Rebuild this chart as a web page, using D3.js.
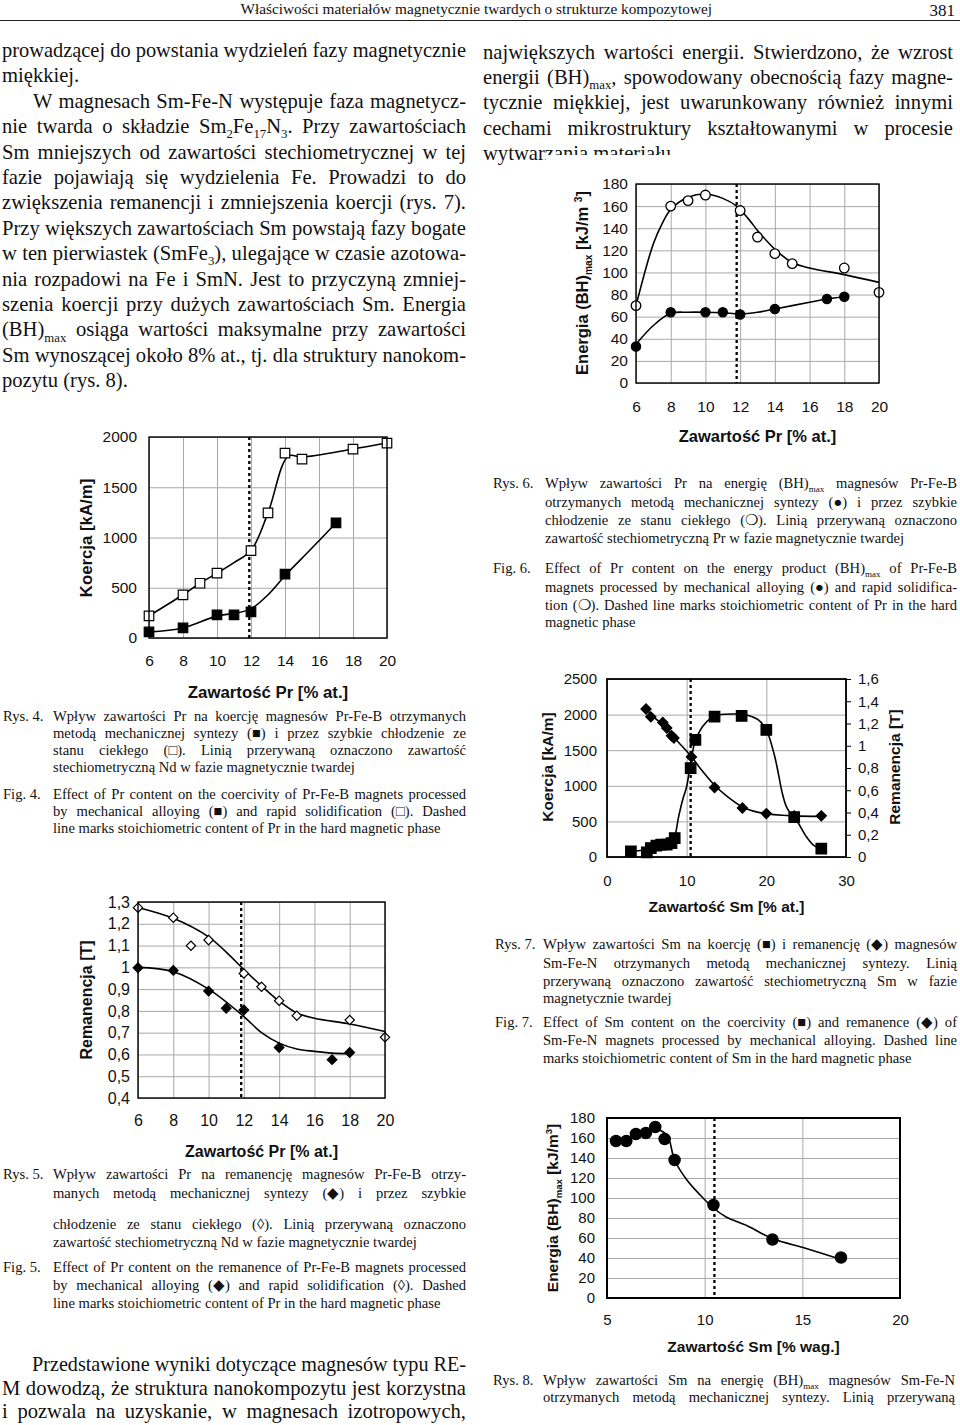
<!DOCTYPE html>
<html lang="pl">
<head>
<meta charset="utf-8">
<title>Rys. 4-8</title>
<script src="https://cdnjs.cloudflare.com/ajax/libs/d3/7.8.5/d3.min.js"></script>
<style>
  body { margin: 0; background: #fff; }
</style>
</head>
<body>
<svg id="page" width="960" height="1425"></svg>
<script>
// ---- Rys. 4: koercja vs Pr ----
var rys4OpenX = [6, 8, 9, 10, 12, 13, 14, 15, 18, 20];
var rys4OpenY = [220, 430, 545, 645, 870, 1245, 1840, 1780, 1880, 1940];
var rys4FilledX = [6, 8, 10, 11, 12, 14, 17];
var rys4FilledY = [60, 100, 230, 230, 260, 635, 1145];
// trend lines as drawn in the figure
var rys4OpenLineX = [6, 8, 9, 10, 11, 12, 13, 14.2, 15, 18, 20];
var rys4OpenLineY = [220, 430, 545, 645, 750, 870, 1245, 1810, 1800, 1880, 1940];
var rys4FilledLineX = [6, 8, 10, 11, 12, 13, 14, 15.5, 17];
var rys4FilledLineY = [60, 100, 220, 245, 290, 430, 620, 880, 1145];
var rys4Stoich = 11.9;

// ---- Rys. 5: remanencja vs Pr ----
var rys5OpenX = [6, 8, 9, 10, 12, 13, 14, 15, 18, 20];
var rys5OpenY = [1.274, 1.228, 1.099, 1.125, 0.972, 0.911, 0.847, 0.778, 0.758, 0.679];
var rys5FilledX = [6, 8, 10, 11, 12, 14, 17, 18];
var rys5FilledY = [0.998, 0.986, 0.891, 0.812, 0.804, 0.632, 0.576, 0.609];
var rys5OpenLineX = [6, 8, 10, 11, 12, 13, 14, 15, 16, 18, 20];
var rys5OpenLineY = [1.275, 1.225, 1.14, 1.07, 0.99, 0.915, 0.845, 0.79, 0.766, 0.74, 0.705];
var rys5FilledLineX = [6, 8, 10, 12, 13, 14, 15, 16, 17, 18];
var rys5FilledLineY = [1.0, 0.98, 0.9, 0.774, 0.70, 0.652, 0.625, 0.614, 0.606, 0.603];
var rys5Stoich = 11.85;

// ---- Rys. 6: energia vs Pr ----
var rys6OpenX = [6, 8, 9, 10, 12, 13, 14, 15, 18, 20];
var rys6OpenY = [70, 160, 165, 170, 156, 132, 117, 108, 104, 82];
var rys6FilledX = [6, 8, 10, 11, 12, 14, 17, 18];
var rys6FilledY = [33, 64, 64, 64, 62, 67, 76, 78];
var rys6OpenLineX = [6, 7, 7.5, 8, 9, 10, 11, 11.8, 12.5, 13, 14, 15, 16, 18, 20];
var rys6OpenLineY = [70, 126, 144, 157, 168, 171, 167, 160, 148, 138, 121, 109, 104, 98, 91];
var rys6FilledLineX = [6, 7, 8, 9, 10, 11, 12, 13, 14, 16, 17, 18];
var rys6FilledLineY = [35, 52, 63, 64, 64, 63.5, 62.5, 64, 67, 73, 76, 78];
var rys6Stoich = 11.8;

// ---- Rys. 7: koercja i remanencja vs Sm ----
var rys7KoercjaX = [3, 5, 5.5, 6.2, 6.8, 7.5, 8.1, 8.5, 10.5, 11.1, 13.5, 16.9, 20, 23.5, 26.9];
var rys7KoercjaY = [80, 65, 126, 159, 173, 173, 196, 266, 1248, 1645, 1972, 1981, 1785, 560, 117];
var rys7RemX = [4.9, 5.5, 7.0, 7.5, 8.1, 8.4, 10.6, 13.5, 17, 20, 23.5, 26.9];
var rys7RemY = [1.33, 1.26, 1.21, 1.16, 1.09, 1.07, 0.90, 0.625, 0.44, 0.39, 0.37, 0.37];
var rys7KoercjaLineX = [3, 5, 7, 8, 8.5, 9, 9.5, 10, 10.5, 11, 12, 13, 14, 16, 17.5, 19, 20, 21, 21.5, 22, 22.5, 23, 23.5, 24, 25, 26, 27];
var rys7KoercjaLineY = [80, 103, 150, 196, 290, 570, 804, 990, 1318, 1598, 1832, 1948, 1995, 2009, 1995, 1925, 1785, 1435, 1178, 897, 710, 617, 547, 477, 290, 159, 103];
var rys7RemLineX = [4.9, 6, 7, 8, 9, 10.5, 12, 13.5, 15, 17, 18.5, 20, 22, 23.5, 27];
var rys7RemLineY = [1.33, 1.25, 1.19, 1.11, 1.03, 0.91, 0.77, 0.645, 0.55, 0.45, 0.41, 0.39, 0.375, 0.37, 0.365];
var rys7Stoich = 10.5;

// ---- Rys. 8: energia vs Sm [% wag.] ----
var rys8X = [5.46, 5.99, 6.48, 6.99, 7.47, 7.95, 8.46, 10.45, 13.47, 16.98];
var rys8Y = [157, 157, 164, 165, 171, 159, 138, 93, 58.5, 40.5];
var rys8LineX = [7.4, 8.07, 8.46, 9.09, 9.77, 10.45, 11.1, 12.2, 13.47, 15.2, 17];
var rys8LineY = [170, 163, 138, 118, 103, 90, 81, 72, 59.5, 49.5, 38.5];
var rys8Stoich = 10.5;

// tick labels
var prTicks = [6, 8, 10, 12, 14, 16, 18, 20];
var koercjaPrTicks = [0, 500, 1000, 1500, 2000];
var remPrTicks = [0.4, 0.5, 0.6, 0.7, 0.8, 0.9, 1, 1.1, 1.2, 1.3];
var energyTicks = [0, 20, 40, 60, 80, 100, 120, 140, 160, 180];
var smAtTicks = [0, 10, 20, 30];
var koercjaSmTicks = [0, 500, 1000, 1500, 2000, 2500];
var remSmTicks = [0, 0.2, 0.4, 0.6, 0.8, 1, 1.2, 1.4, 1.6];
var smWagTicks = [5, 10, 15, 20];

// ---- page text ----
var headerTitle = "Właściwości materiałów magnetycznie twardych o strukturze kompozytowej";
var pageNumber = "381";

// [text, indent, justified]
var leftColumn = [
  ["prowadzącej do powstania wydzieleń fazy magnetycznie", 0, true],
  ["miękkiej.", 0, false],
  ["W magnesach Sm-Fe-N występuje faza magnetycz-", 31, true],
  ["nie twarda o składzie Sm_{2}Fe_{17}N_{3}. Przy zawartościach", 0, true],
  ["Sm mniejszych od zawartości stechiometrycznej w tej", 0, true],
  ["fazie pojawiają się wydzielenia Fe. Prowadzi to do", 0, true],
  ["zwiększenia remanencji i zmniejszenia koercji (rys. 7).", 0, true],
  ["Przy większych zawartościach Sm powstają fazy bogate", 0, true],
  ["w ten pierwiastek (SmFe_{3}), ulegające w czasie azotowa-", 0, true],
  ["nia rozpadowi na Fe i SmN. Jest to przyczyną zmniej-", 0, true],
  ["szenia koercji przy dużych zawartościach Sm. Energia", 0, true],
  ["(BH)_{max} osiąga wartości maksymalne przy zawartości", 0, true],
  ["Sm wynoszącej około 8% at., tj. dla struktury nanokom-", 0, true],
  ["pozytu (rys. 8).", 0, false]
];
var rightColumn = [
  ["największych wartości energii. Stwierdzono, że wzrost", 0, true],
  ["energii (BH)_{max}, spowodowany obecnością fazy magne-", 0, true],
  ["tycznie miękkiej, jest uwarunkowany również innymi", 0, true],
  ["cechami mikrostruktury kształtowanymi w procesie", 0, true],
  ["wytwarzania materiału.", 0, false]
];
var bottomColumn = [
  ["Przedstawione wyniki dotyczące magnesów typu RE-", 30, true],
  ["M dowodzą, że struktura nanokompozytu jest korzystna", 0, true],
  ["i pozwala na uzyskanie, w magnesach izotropowych,", 0, true]
];

// captions: [text, justified]
var rys4Pl = [
  ["Wpływ zawartości Pr na koercję magnesów Pr-Fe-B otrzymanych", true],
  ["metodą mechanicznej syntezy (■) i przez szybkie chłodzenie ze", true],
  ["stanu ciekłego (□). Linią przerywaną oznaczono zawartość", true],
  ["stechiometryczną Nd w fazie magnetycznie twardej", false]
];
var rys4En = [
  ["Effect of Pr content on the coercivity of Pr-Fe-B magnets processed", true],
  ["by mechanical alloying (■) and rapid solidification (□). Dashed", true],
  ["line marks stoichiometric content of Pr in the hard magnetic phase", false]
];
var rys5Pl = [
  ["Wpływ zawartości Pr na remanencję magnesów Pr-Fe-B otrzy-", true],
  ["manych metodą mechanicznej syntezy (◆) i przez szybkie", true],
  ["chłodzenie ze stanu ciekłego (◊). Linią przerywaną oznaczono", true],
  ["zawartość stechiometryczną Nd w fazie magnetycznie twardej", false]
];
var rys5En = [
  ["Effect of Pr content on the remanence of Pr-Fe-B magnets processed", true],
  ["by mechanical alloying (◆) and rapid solidification (◊). Dashed", true],
  ["line marks stoichiometric content of Pr in the hard magnetic phase", false]
];
var rys6Pl = [
  ["Wpływ zawartości Pr na energię (BH)_{max} magnesów Pr-Fe-B", true],
  ["otrzymanych metodą mechanicznej syntezy (●) i przez szybkie", true],
  ["chłodzenie ze stanu ciekłego (❍). Linią przerywaną oznaczono", true],
  ["zawartość stechiometryczną Pr w fazie magnetycznie twardej", false]
];
var rys6En = [
  ["Effect of Pr content on the energy product (BH)_{max} of Pr-Fe-B", true],
  ["magnets processed by mechanical alloying (●) and rapid solidifica-", true],
  ["tion (❍). Dashed line marks stoichiometric content of Pr in the hard", true],
  ["magnetic phase", false]
];
var rys7Pl = [
  ["Wpływ zawartości Sm na koercję (■) i remanencję (◆) magnesów", true],
  ["Sm-Fe-N otrzymanych metodą mechanicznej syntezy. Linią", true],
  ["przerywaną oznaczono zawartość stechiometryczną Sm w fazie", true],
  ["magnetycznie twardej", false]
];
var rys7En = [
  ["Effect of Sm content on the coercivity (■) and remanence (◆) of", true],
  ["Sm-Fe-N magnets processed by mechanical alloying. Dashed line", true],
  ["marks stoichiometric content of Sm in the hard magnetic phase", false]
];
var rys8Pl = [
  ["Wpływ zawartości Sm na energię (BH)_{max} magnesów Sm-Fe-N", true],
  ["otrzymanych metodą mechanicznej syntezy. Linią przerywaną", true]
];

var serif = "'Liberation Serif', 'Times New Roman', serif";
var sans = "'Liberation Sans', Arial, sans-serif";
var gridColor = "#a8a8a8";
var captionSize = 14.6;
var svg = d3.select("#page");

// text with _{sub} and ^{sup} parts
function richText(parent, x, y, str, o) {
  var size = o.size;
  var t = parent.append("text")
    .attr("x", x).attr("y", y)
    .attr("font-family", o.family || serif)
    .attr("font-size", size)
    .attr("font-weight", o.weight || "normal")
    .attr("text-anchor", o.anchor || "start")
    .attr("fill", "#111");
  var off = 0;
  str.split(/([_^]\{[^}]*\})/).forEach(function(p) {
    if (!p) return;
    var s = t.append("tspan");
    if (p[0] === "_" || p[0] === "^") {
      var d = p[0] === "_" ? size * 0.25 : -size * 0.38;
      s.attr("dy", d - off).attr("font-size", size * 0.62).text(p.slice(2, -1));
      off = d;
    } else {
      s.attr("dy", -off).text(p);
      off = 0;
    }
  });
  if (o.width) justify(t, o.width);
  return t;
}

// stretch the word gaps so the line fills the column
function justify(t, width) {
  var natural = t.node().getComputedTextLength();
  var spaces = (t.text().match(/ /g) || []).length;
  if (natural > width || !spaces) {
    t.attr("textLength", width).attr("lengthAdjust", "spacingAndGlyphs");
  } else {
    t.style("word-spacing", ((width - natural) / spaces) + "px");
  }
}

function drawColumn(lines, x0, right, y0, step, size) {
  return lines.map(function(l, i) {
    var x = x0 + l[1];
    return richText(svg, x, y0 + i * step, l[0], {size: size, width: l[2] ? right - x : null});
  });
}

function drawCaption(label, lx, bx, right, lines, ys) {
  richText(svg, lx, ys[0], label, {size: captionSize});
  lines.forEach(function(l, i) {
    richText(svg, bx, ys[i], l[0], {size: captionSize, width: l[1] ? right - bx : null});
  });
}

// plot frame with grid and tick labels
function drawFrame(c) {
  var x = d3.scaleLinear().domain(c.xDomain).range([c.left, c.right]);
  var y = d3.scaleLinear().domain(c.yDomain).range([c.bottom, c.top]);
  var g = svg.append("g");

  g.append("g").attr("transform", "translate(0," + c.bottom + ")")
    .call(d3.axisBottom(x).tickValues(c.xGrid).tickSize(c.top - c.bottom).tickFormat(""))
    .call(function(s) { s.select(".domain").remove(); })
    .selectAll("line").attr("stroke", gridColor);
  g.append("g").attr("transform", "translate(" + c.left + ",0)")
    .call(d3.axisLeft(y).tickValues(c.yGrid).tickSize(c.left - c.right).tickFormat(""))
    .call(function(s) { s.select(".domain").remove(); })
    .selectAll("line").attr("stroke", gridColor);

  var ax = g.append("g").attr("transform", "translate(0," + c.bottom + ")")
    .call(d3.axisBottom(x).tickValues(c.xTicks).tickSize(0).tickPadding(c.xPad).tickFormat(d3.format("d")))
    .attr("font-family", sans).attr("font-size", c.tickSize);
  ax.select(".domain").remove();
  var ay = g.append("g").attr("transform", "translate(" + c.left + ",0)")
    .call(d3.axisLeft(y).tickValues(c.yTicks).tickSize(0).tickPadding(c.yPad).tickFormat(c.yFmt))
    .attr("font-family", sans).attr("font-size", c.tickSize);
  ay.select(".domain").remove();
  g.selectAll(".tick text").attr("fill", "#111");

  // axis titles
  richText(g, (c.left + c.right) / 2, c.titleY, c.xTitle,
    {size: c.titleSize, family: sans, weight: "bold", anchor: "middle"});
  var yt = g.append("g").attr("transform", "translate(" + c.yTitleX + "," + c.yTitleY + ") rotate(-90)");
  richText(yt, 0, 0, c.yTitle, {size: c.titleSize, family: sans, weight: "bold", anchor: "middle"});

  return {g: g, x: x, y: y, c: c};
}

function drawBorder(f, w) {
  f.g.append("rect")
    .attr("x", f.c.left).attr("y", f.c.top)
    .attr("width", f.c.right - f.c.left).attr("height", f.c.bottom - f.c.top)
    .attr("fill", "none").attr("stroke", "#000").attr("stroke-width", w || 1.4);
}

function drawStoich(f, v) {
  f.g.append("line")
    .attr("x1", f.x(v)).attr("x2", f.x(v))
    .attr("y1", f.c.top).attr("y2", f.c.bottom)
    .attr("stroke", "#000").attr("stroke-width", 2.3).attr("stroke-dasharray", "3,3");
}

function drawCurve(f, sy, xs, ys) {
  var line = d3.line()
    .x(function(d) { return f.x(d); })
    .y(function(d, i) { return sy(ys[i]); })
    .curve(d3.curveCatmullRom.alpha(0.5));
  f.g.append("path").datum(xs).attr("d", line)
    .attr("fill", "none").attr("stroke", "#000").attr("stroke-width", 1.6);
}

function drawMarkers(f, sy, xs, ys, shape, size, filled) {
  var sel = f.g.append("g").selectAll("path").data(xs).enter();
  var fill = filled ? "#000" : "#fff";
  if (shape === "circle") {
    sel.append("circle")
      .attr("cx", function(d) { return f.x(d); })
      .attr("cy", function(d, i) { return sy(ys[i]); })
      .attr("r", size).attr("fill", fill).attr("stroke", "#000").attr("stroke-width", 1.3);
  } else {
    var sym = d3.symbol().type(d3.symbolSquare).size(size * size);
    sel.append("path").attr("d", sym)
      .attr("transform", function(d, i) {
        return "translate(" + f.x(d) + "," + sy(ys[i]) + ")" + (shape === "diamond" ? " rotate(45)" : "");
      })
      .attr("fill", fill).attr("stroke", "#000").attr("stroke-width", 1.2);
  }
}

function commaFmt(d) { return String(d).replace(".", ","); }

// ---- header ----
richText(svg, 712, 14, headerTitle, {size: 15.3, anchor: "end"});
richText(svg, 955, 16, pageNumber, {size: 17, anchor: "end"});
svg.append("line").attr("x1", 0).attr("x2", 960).attr("y1", 20.5).attr("y2", 20.5)
  .attr("stroke", "#222").attr("stroke-width", 1.2);

// ---- body text ----
drawColumn(leftColumn, 2, 466, 57, 25.4, 20.6);
var right = drawColumn(rightColumn, 483, 953, 58.5, 25.4, 20.6);
drawColumn(bottomColumn, 2, 466, 1371, 23.5, 20.6);

// ---- Rys. 6 (the figure covers the end of the right column) ----
var lastLine = right[right.length - 1].node();
var coverX = 483 + lastLine.getSubStringLength(0, 6) + 1;
svg.append("rect").attr("x", coverX).attr("y", 155).attr("width", 960 - coverX).attr("height", 297).attr("fill", "#fff");
var f6 = drawFrame({
  left: 636, right: 879, top: 184, bottom: 383,
  xDomain: [6, 20], yDomain: [0, 180],
  xTicks: prTicks, yTicks: energyTicks, xGrid: prTicks, yGrid: energyTicks,
  xPad: 18, yPad: 8, tickSize: 15.5, yFmt: d3.format("d"),
  xTitle: "Zawartość Pr [% at.]", titleY: 442, titleSize: 16.5,
  yTitle: "Energia (BH)_{max} [kJ/m ^{3}]", yTitleX: 588, yTitleY: 283
});
drawStoich(f6, rys6Stoich);
drawCurve(f6, f6.y, rys6OpenLineX, rys6OpenLineY);
drawCurve(f6, f6.y, rys6FilledLineX, rys6FilledLineY);
drawMarkers(f6, f6.y, rys6OpenX, rys6OpenY, "circle", 4.8, false);
drawMarkers(f6, f6.y, rys6FilledX, rys6FilledY, "circle", 4.6, true);
drawBorder(f6);

// ---- Rys. 4 ----
var f4 = drawFrame({
  left: 149, right: 387, top: 437, bottom: 638,
  xDomain: [6, 20], yDomain: [0, 2000],
  xTicks: prTicks, yTicks: koercjaPrTicks, xGrid: prTicks, yGrid: koercjaPrTicks,
  xPad: 17, yPad: 12, tickSize: 15.5, yFmt: d3.format("d"),
  xTitle: "Zawartość Pr [% at.]", titleY: 698, titleSize: 16.8,
  yTitle: "Koercja [kA/m]", yTitleX: 92, yTitleY: 538
});
drawStoich(f4, rys4Stoich);
drawCurve(f4, f4.y, rys4OpenLineX, rys4OpenLineY);
drawCurve(f4, f4.y, rys4FilledLineX, rys4FilledLineY);
drawMarkers(f4, f4.y, rys4OpenX, rys4OpenY, "square", 9.5, false);
drawMarkers(f4, f4.y, rys4FilledX, rys4FilledY, "square", 9.5, true);
drawBorder(f4);

// ---- Rys. 5 ----
var f5 = drawFrame({
  left: 138, right: 385, top: 902, bottom: 1098,
  xDomain: [6, 20], yDomain: [0.4, 1.3],
  xTicks: prTicks, yTicks: remPrTicks, xGrid: prTicks, yGrid: remPrTicks,
  xPad: 17, yPad: 8, tickSize: 16, yFmt: commaFmt,
  xTitle: "Zawartość Pr [% at.]", titleY: 1157, titleSize: 16,
  yTitle: "Remanencja [T]", yTitleX: 92, yTitleY: 1000
});
drawStoich(f5, rys5Stoich);
drawCurve(f5, f5.y, rys5OpenLineX, rys5OpenLineY);
drawCurve(f5, f5.y, rys5FilledLineX, rys5FilledLineY);
drawMarkers(f5, f5.y, rys5OpenX, rys5OpenY, "diamond", 6.6, false);
drawMarkers(f5, f5.y, rys5FilledX, rys5FilledY, "diamond", 6.8, true);
drawBorder(f5);

// ---- Rys. 7 (two y axes) ----
var f7 = drawFrame({
  left: 607, right: 846, top: 679, bottom: 857,
  xDomain: [0, 30], yDomain: [0, 2500],
  xTicks: smAtTicks, yTicks: koercjaSmTicks, xGrid: smAtTicks, yGrid: koercjaSmTicks,
  xPad: 18, yPad: 10, tickSize: 15, yFmt: d3.format("d"),
  xTitle: "Zawartość Sm [% at.]", titleY: 912, titleSize: 15.5,
  yTitle: "Koercja [kA/m]", yTitleX: 553, yTitleY: 767
});
var y7r = d3.scaleLinear().domain([0, 1.6]).range([857, 679]);
var ar = f7.g.append("g").attr("transform", "translate(846,0)")
  .call(d3.axisRight(y7r).tickValues(remSmTicks).tickSize(5).tickPadding(7).tickFormat(commaFmt))
  .attr("font-family", sans).attr("font-size", 15);
ar.select(".domain").remove();
ar.selectAll("text").attr("fill", "#111");
ar.selectAll("line").attr("stroke", "#000");
var yt7 = f7.g.append("g").attr("transform", "translate(900,767) rotate(-90)");
richText(yt7, 0, 0, "Remanencja [T]", {size: 15.5, family: sans, weight: "bold", anchor: "middle"});
drawStoich(f7, rys7Stoich);
drawCurve(f7, f7.y, rys7KoercjaLineX, rys7KoercjaLineY);
drawCurve(f7, y7r, rys7RemLineX, rys7RemLineY);
drawMarkers(f7, y7r, rys7RemX, rys7RemY, "diamond", 7.2, true);
drawMarkers(f7, f7.y, rys7KoercjaX, rys7KoercjaY, "square", 10.5, true);
drawBorder(f7, 1.8);

// ---- Rys. 8 ----
var f8 = drawFrame({
  left: 607, right: 900, top: 1118, bottom: 1298,
  xDomain: [5, 20], yDomain: [0, 180],
  xTicks: smWagTicks, yTicks: energyTicks, xGrid: smWagTicks, yGrid: energyTicks,
  xPad: 16, yPad: 12, tickSize: 15, yFmt: d3.format("d"),
  xTitle: "Zawartość Sm [% wag.]", titleY: 1352, titleSize: 15.5,
  yTitle: "Energia (BH)_{max} [kJ/m^{3}]", yTitleX: 558, yTitleY: 1208
});
drawStoich(f8, rys8Stoich);
drawCurve(f8, f8.y, rys8LineX, rys8LineY);
drawMarkers(f8, f8.y, rys8X, rys8Y, "circle", 5.6, true);
drawBorder(f8, 2);

// ---- captions ----
drawCaption("Rys. 4.", 3, 53, 466, rys4Pl, [721, 738, 755, 772]);
drawCaption("Fig. 4.", 3, 53, 466, rys4En, [799, 816, 833]);
drawCaption("Rys. 5.", 3, 53, 466, rys5Pl, [1179, 1198, 1229, 1247]);
drawCaption("Fig. 5.", 3, 53, 466, rys5En, [1272, 1290, 1308]);
drawCaption("Rys. 6.", 493, 545, 957, rys6Pl, [488, 507, 525, 543]);
drawCaption("Fig. 6.", 493, 545, 957, rys6En, [573, 592, 610, 627]);
drawCaption("Rys. 7.", 495, 543, 957, rys7Pl, [949, 968, 986, 1003]);
drawCaption("Fig. 7.", 495, 543, 957, rys7En, [1027, 1045, 1063]);
drawCaption("Rys. 8.", 493, 543, 955, rys8Pl, [1385, 1402]);
</script>
</body>
</html>
